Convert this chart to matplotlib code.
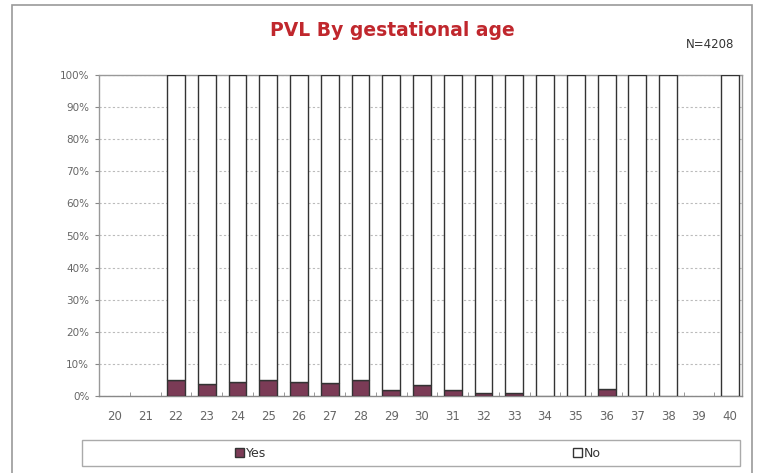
import matplotlib
matplotlib.use("Agg")
import matplotlib.pyplot as plt
import numpy as np
from matplotlib.patches import Rectangle

# gestational age (weeks) and % with PVL; nan = no babies in that week
weeks = [20, 21, 22, 23, 24, 25, 26, 27, 28, 29, 30, 31, 32, 33, 34, 35, 36, 37, 38, 39, 40]
yes_pct = [np.nan, np.nan, 5.0, 3.6, 4.5, 5.0, 4.4, 4.2, 4.9, 2.0, 3.3, 1.8, 0.9, 1.0, 0.0, 0.0, 2.1, 0.0, 0.0, np.nan, 0.0]
no_pct = [100 - v for v in yes_pct]
y_ticks = [0, 10, 20, 30, 40, 50, 60, 70, 80, 90, 100]
y_labels = [f"{t}%" for t in y_ticks]

fig = plt.figure(figsize=(7.6, 4.73), dpi=100)
fig.patch.set_facecolor("white")

# outer chart frame
fig.patches.append(Rectangle((12/760, -0.05), 740/760, 1 - 5/473 + 0.05, transform=fig.transFigure,
                             fill=False, edgecolor="#9a9a9a", lw=1.2))

ax = fig.add_axes([99/760, 1 - 396/473, 643/760, 321/473])
yes_c = "#7b3b56"
ax.bar(weeks, yes_pct, width=0.58, color=yes_c, edgecolor="#333333", lw=1.0, label="Yes", zorder=3)
ax.bar(weeks, no_pct, width=0.58, bottom=yes_pct, color="white", edgecolor="#333333", lw=1.0, label="No", zorder=3)

ax.set_xlim(19.5, 40.4)
ax.set_ylim(0, 100)
ax.set_xticks(weeks)
ax.set_xticklabels([str(w) for w in weeks], fontsize=8.5, color="#666666")
ax.set_yticks(y_ticks)
ax.set_yticklabels(y_labels, fontsize=7.5, color="#666666")
ax.tick_params(axis="x", length=0, pad=10)
ax.tick_params(axis="y", length=3, color="#888888", pad=4)
ax.set_xticks(np.arange(20.5, 40, 1), minor=True)
ax.tick_params(axis="x", which="minor", length=3, direction="in", color="#888888")
ax.grid(axis="y", linestyle=(0, (2, 2)), color="#bbbbbb", lw=0.8, zorder=0)
for s in ax.spines.values():
    s.set_color("#999999")
    s.set_linestyle((0, (1, 1)))
    s.set_linewidth(1.0)
ax.spines["bottom"].set_linestyle("-")
ax.spines["bottom"].set_color("#888888")

fig.text(392/760, 1 - 31/473, "PVL By gestational age", ha="center", va="center",
         fontsize=13.5, fontweight="bold", color="#c0272d", family="DejaVu Sans")
fig.text(710/760, 1 - 44/473, "N=4208", ha="center", va="center", fontsize=8.5, color="#333333")

# legend box
fig.patches.append(Rectangle((82/760, 1 - 466/473), 658/760, 26/473, transform=fig.transFigure,
                             fill=False, edgecolor="#aaaaaa", lw=1.0))
h, l = ax.get_legend_handles_labels()
fig.legend(h, l, loc="center", bbox_to_anchor=(418/760, 1 - 453/473), ncol=2, frameon=False,
           fontsize=9, handlelength=0.7, handleheight=0.7, handletextpad=0.2, columnspacing=24.5,
           labelcolor="#333333")

fig.savefig("out.png", dpi=100)
